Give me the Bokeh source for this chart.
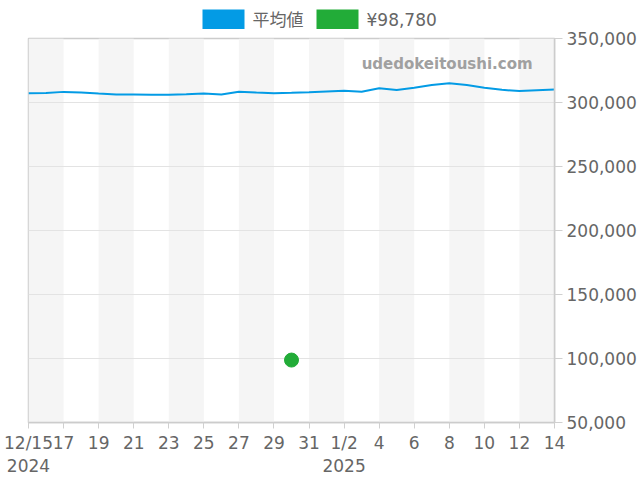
import pandas as pd
from bokeh.plotting import figure
from bokeh.layouts import column
from bokeh.core.properties import value
from bokeh.models import (Range1d, FixedTicker, NumeralTickFormatter, Label,
                          ColumnDataSource)
from bokeh.embed import file_html
from bokeh.resources import INLINE

# ---- data ----
dates = pd.date_range("2024-12-15", "2025-01-14", freq="D")
avg_prices = [307300, 307500, 308300, 307800, 307000, 306300, 306300, 306100,
              306000, 306400, 307000, 306200, 308400, 307800, 307300, 307600,
              308000, 308600, 309100, 308400, 311200, 309800, 311600, 313600,
              315000, 313700, 311600, 309900, 308900, 309600, 310200]
point_dates = pd.to_datetime(["2024-12-30"])
point_prices = [98780]
tick_labels = ["12/15", "17", "19", "21", "23", "25", "27", "29", "31",
               "1/2", "4", "6", "8", "10", "12", "14"]
year_dates = pd.to_datetime(["2024-12-15", "2025-01-02"])
year_labels = ["2024", "2025"]
y_ticks = [50000, 100000, 150000, 200000, 250000, 300000, 350000]
series_name = "平均値"

BLUE = "#039be5"
GREEN = "#22ac38"
TXT = "#666666"
FONT = "DejaVu Sans, 'Noto Sans CJK JP'"

W = 640
LEFT, RIGHT = 28, 86          # borders around the plot frame
TOP_H, MAIN_H, BOT_H = 29, 426, 25


def ms(d):
    return float(pd.Timestamp(d).value // 10**6)


x0, x1 = ms(dates[0]), ms(dates[-1])

# ---- main figure ----
p = figure(width=W, height=MAIN_H, x_axis_type="datetime",
           y_axis_location="right", output_backend="svg", toolbar_location=None,
           x_range=Range1d(x0, x1), y_range=Range1d(50000, 350000),
           min_border_left=LEFT, min_border_top=9, min_border_right=RIGHT,
           min_border_bottom=33)
p.background_fill_color = "white"
p.border_fill_color = "white"
p.outline_line_color = "#cccccc"
p.outline_line_width = 1.5

# alternating bands, every other 2-day interval (drawn beneath the grid)
band_left = [ms(d) for d in dates[:-1:4]]
band_right = [ms(d + pd.Timedelta(days=2)) for d in dates[:-1:4]]
band_src = ColumnDataSource(dict(l=band_left, r=band_right))
p.quad(left="l", right="r", bottom=50000, top=350000, source=band_src,
       fill_color="#f5f5f5", line_color=None, level="image")

src = ColumnDataSource(dict(x=[ms(d) for d in dates], y=avg_prices))
p.line("x", "y", source=src, line_color=BLUE, line_width=2)
pt_src = ColumnDataSource(dict(x=[ms(d) for d in point_dates], y=point_prices))
p.scatter("x", "y", source=pt_src, size=14, fill_color=GREEN, line_color=GREEN)

p.add_layout(Label(x=ms(dates[-1] - pd.Timedelta(hours=30)), y=330000,
                   text="udedokeitoushi.com", text_font_style="bold",
                   text_font_size="15px", text_color="#a0a0a0",
                   text_align="right", text_baseline="middle", text_font=FONT))

tick_ms = [ms(d) for d in dates[::2]]
p.xaxis.ticker = FixedTicker(ticks=tick_ms)
p.xaxis.major_label_overrides = {t: l for t, l in zip(tick_ms, tick_labels)}
p.yaxis.ticker = FixedTicker(ticks=y_ticks)
p.yaxis.formatter = NumeralTickFormatter(format="0,0")
for ax in (p.xaxis[0], p.yaxis[0]):
    ax.axis_line_color = "#cccccc"
    ax.axis_line_width = 1.5
    ax.major_tick_line_color = "#d0d0d0"
    ax.major_tick_in = 0
    ax.minor_tick_line_color = None
    ax.major_label_text_color = TXT
    ax.major_label_text_font_size = "17px"
    ax.major_label_text_font = FONT
p.xaxis.major_tick_out = 6
p.yaxis.major_tick_out = 8
p.xaxis.major_label_standoff = 4
p.yaxis.major_label_standoff = 4
p.xgrid.grid_line_color = None
p.ygrid.grid_line_color = "#e3e3e3"


def strip(height, xr, yr, **kw):
    f = figure(width=W, height=height, output_backend="svg", toolbar_location=None,
               x_range=xr, y_range=yr, y_axis_location=None,
               min_border_left=LEFT, min_border_right=RIGHT,
               min_border_top=0, min_border_bottom=0, **kw)
    f.grid.grid_line_color = None
    f.outline_line_color = None
    f.background_fill_color = "white"
    f.border_fill_color = "white"
    return f


# ---- top strip: legend (x in page pixels over the frame, y downwards) ----
top = strip(TOP_H, Range1d(LEFT, W - RIGHT), Range1d(TOP_H, 0), x_axis_location=None)
leg_labels = [series_name, f"¥{point_prices[0]:,}"]
leg_colors = [BLUE, GREEN]
leg_box_left = [202, 316]
top.quad(left=leg_box_left, right=[b + 42 for b in leg_box_left], top=9, bottom=29,
         fill_color=leg_colors, line_color=None)
top.text(x=[b + 50 for b in leg_box_left], y=19.5, text=leg_labels,
         text_font=value(FONT), text_font_size="17px", text_color=TXT,
         text_baseline="middle", text_align="left")

# ---- bottom strip: year labels as an axis sharing the main x range ----
bot = strip(BOT_H, p.x_range, Range1d(0, 1), x_axis_type="datetime",
            x_axis_location="above")
year_ms = [ms(d) for d in year_dates]
bot.xaxis.ticker = FixedTicker(ticks=year_ms)
bot.xaxis.major_label_overrides = {t: l for t, l in zip(year_ms, year_labels)}
bot.xaxis.axis_line_color = None
bot.xaxis.major_tick_line_color = None
bot.xaxis.minor_tick_line_color = None
bot.xaxis.major_tick_out = 0
bot.xaxis.major_tick_in = 0
bot.xaxis.major_label_standoff = 0
bot.xaxis.major_label_text_color = TXT
bot.xaxis.major_label_text_font_size = "17px"
bot.xaxis.major_label_text_font = FONT

layout = column(top, p, bot, spacing=0)
open("out.html", "w").write(file_html(layout, INLINE))
